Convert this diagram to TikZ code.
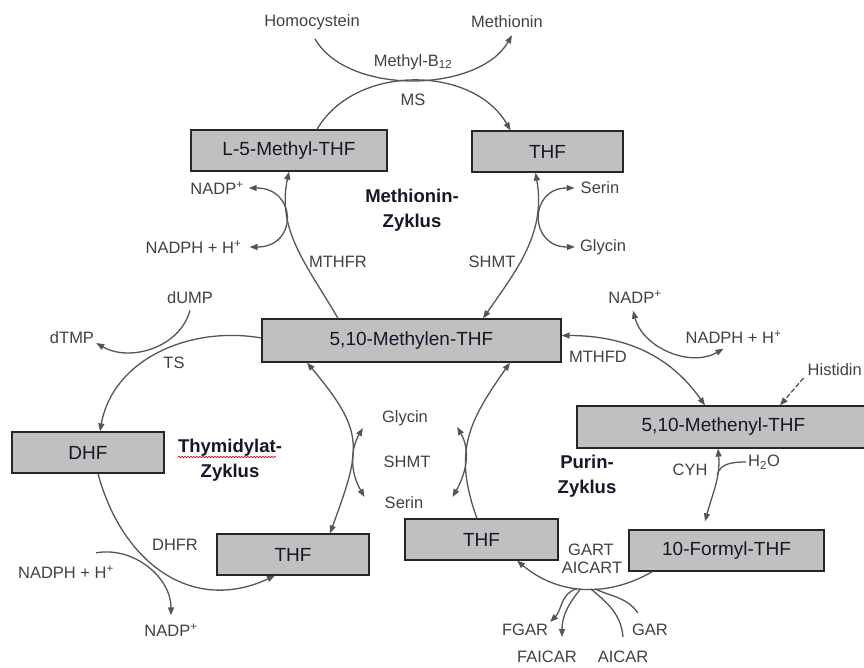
\documentclass[tikz,border=0pt]{standalone}
\usepackage{fontspec}
\setmainfont{Liberation Sans}
\usepackage{tikz}
\usetikzlibrary{arrows.meta}
\usetikzlibrary{decorations.pathmorphing}

\definecolor{boxgray}{RGB}{192,192,192}
\definecolor{linegray}{RGB}{85,85,85}
\definecolor{lblgray}{RGB}{64,64,72}
\definecolor{boxtext}{RGB}{22,22,40}

\tikzset{
  enzbox/.style={draw=black!85, fill=boxgray, line width=1.2pt, minimum height=41pt,
    inner sep=0pt, text=boxtext, font=\fontsize{19}{22}\selectfont},
  lbl/.style={text=lblgray, inner sep=2pt, font=\fontsize{16.5}{19}\selectfont},
  cyc/.style={align=center, text=boxtext, font=\bfseries\fontsize{18.5}{25}\selectfont},
  spell/.style={red!85!black, line width=0.6pt, decorate,
    decoration={snake, segment length=3pt, amplitude=0.8pt}}
}

\begin{document}
\begin{tikzpicture}[x=1pt, y=1pt, >={Triangle[length=8pt,width=6pt]},
    every edge/.append style={draw=linegray, line width=1.3pt}]
    \useasboundingbox (0,0) rectangle (864,-667);
    % boxes
    \node[enzbox, minimum width=196pt] (lmthf) at (289,-150.5) {L-5-Methyl-THF};
    \node[enzbox, minimum width=151pt] (thfA) at (547.5,-151.5) {THF};
    \node[enzbox, minimum width=299pt, minimum height=43pt] (mthf) at (411.5,-340.5) {5,10-Methylen-THF};
    \node[enzbox, minimum width=152pt] (dhf) at (88,-452.5) {DHF};
    \node[enzbox, minimum width=152pt] (thfB) at (293,-554.5) {THF};
    \node[enzbox, minimum width=153pt] (thfC) at (481.5,-539.5) {THF};
    \node[enzbox, minimum width=195pt] (formyl) at (726.5,-550.5) {10-Formyl-THF};
    \node[enzbox, minimum width=293pt, minimum height=42pt] (methenyl) at (723.5,-427) {5,10-Methenyl-THF};
    % labels
    \node[lbl] (hcy) at (312,-22) {Homocystein};
    \node[lbl] (met) at (507,-22) {Methionin};
    \node[lbl] (b12) at (413,-62) {Methyl-B\textsubscript{12}};
    \node[lbl] (ms) at (413,-100) {MS};
    \node[lbl] (nadpA) at (217,-188) {NADP\textsuperscript{+}};
    \node[lbl] (nadphA) at (193.5,-247) {NADPH + H\textsuperscript{+}};
    \node[lbl] (mthfr) at (338,-262) {MTHFR};
    \node[lbl] (serA) at (600,-188) {Serin};
    \node[lbl] (glyA) at (603,-247) {Glycin};
    \node[lbl] (shmtA) at (492,-262) {SHMT};
    \node[lbl] (dump) at (190,-298) {dUMP};
    \node[lbl] (dtmp) at (72,-338) {dTMP};
    \node[lbl] (ts) at (174,-363) {TS};
    \node[lbl] (nadpB) at (635,-297) {NADP\textsuperscript{+}};
    \node[lbl] (nadphB) at (733.5,-337) {NADPH + H\textsuperscript{+}};
    \node[lbl] (mthfd) at (598,-357) {MTHFD};
    \node[lbl, anchor=east] (his) at (864,-370) {Histidin};
    \node[lbl] (glyB) at (405,-418) {Glycin};
    \node[lbl] (shmtB) at (407,-462) {SHMT};
    \node[lbl] (serB) at (404,-503) {Serin};
    \node[lbl] (cyh) at (690,-470) {CYH};
    \node[lbl] (h2o) at (764,-462) {H\textsubscript{2}O};
    \node[lbl] (dhfr) at (175,-545) {DHFR};
    \node[lbl] (nadphC) at (66,-572) {NADPH + H\textsuperscript{+}};
    \node[lbl] (nadpC) at (171,-630) {NADP\textsuperscript{+}};
    \node[lbl] (gart) at (591,-550) {GART};
    \node[lbl] (aicart) at (592,-568) {AICART};
    \node[lbl] (fgar) at (525,-630) {FGAR};
    \node[lbl] (faicar) at (547,-657) {FAICAR};
    \node[lbl] (aicar) at (623,-657) {AICAR};
    \node[lbl] (gar) at (650,-630) {GAR};
    % cycles
    \node[cyc] (metz) at (412,-210) {Methionin-\\Zyklus};
    \node[cyc] (thyz) at (230,-460) {Thymidylat-\\Zyklus};
    \node[cyc] (purz) at (587,-476) {Purin-\\Zyklus};
    \draw[spell] (178,-457) -- (276,-457);
    % Methionin-Zyklus
    \path [->] ([xshift=28]lmthf.north) edge[out=60,in=120] ([xshift=-37]thfA.north);
    \path [->] ([shift={(3,-7)}]hcy.south) edge[out=-60,in=-120,looseness=0.86] ([shift={(5,-5)}]met.south);
    \path [->] ([xshift=-73.5]mthf.north) edge[out=120,in=-102] (lmthf.south);
    \path [<->] ([xshift=3]nadpA.east) edge[out=0,in=0,looseness=2.1] ([xshift=6]nadphA.east);
    \path [<->] ([xshift=71.5]mthf.north) edge[out=55,in=-80] ([xshift=-12]thfA.south);
    \path [<->] ([xshift=-4]serA.west) edge[out=180,in=180,looseness=2] ([xshift=-3]glyA.west);
    % Thymidylat-Zyklus
    \path [->] ([yshift=2.5]mthf.west) edge[out=170,in=80] ([xshift=12]dhf.north);
    \path [->] ([yshift=-4]dump.south) edge[out=-105,in=-30] ([yshift=-5]dtmp.east);
    \path [<->] ([xshift=-104.5]mthf.south) edge[out=-50,in=70,looseness=1.35] ([xshift=37]thfB.north);
    \path [<->] ([shift={(-17,-10)}]glyB.west) edge[out=-120,in=120] ([shift={(-18,6)}]serB.west);
    \path [->] ([xshift=10]dhf.south) edge[out=-75,in=-155,looseness=1.15] ([xshift=-18]thfB.south);
    \path [->] ([shift={(-20,10.5)}]nadphC.north east) edge[out=10,in=90] ([yshift=6]nadpC.north);
    % Purin-Zyklus
    \path [->] ([xshift=-4.5]thfC.north) edge[out=110,in=-125,looseness=1.15] ([xshift=98.5]mthf.south);
    \path [<->] ([shift={(27,-9)}]glyB.east) edge[out=-60,in=60] ([shift={(27,6)}]serB.east);
    \path [<->] ([yshift=5]mthf.east) edge[out=0,in=125] ([xshift=-18.5]methenyl.north);
    \path [<->] ([shift={(-2,-5)}]nadpB.south) edge[out=-75,in=-150] ([shift={(-10,-3)}]nadphB.south);
    \path [->, dashed] ([shift={(-2,-8)}]his.west) edge[dash pattern=on 5pt off 2pt] ([xshift=56.5]methenyl.north);
    \draw [<->, draw=linegray, line width=1.3pt] ([xshift=-5.5]methenyl.south) to[out=-85,in=75]
      node[coordinate, pos=0.35] (cyhJ) {} ([shift={(-21.5,8)}]formyl.north);
    \path (h2o.west) edge[out=180,in=80] (cyhJ);
    \draw [->, draw=linegray, line width=1.3pt] ([xshift=24]formyl.south west) to[out=-150,in=-40]
      node[coordinate, pos=0.5] (gartM) {} ([xshift=35.5]thfC.south);
    \path [->] ([xshift=-6]gartM) edge[out=195,in=45] (fgar.north east);
    \path [->] ([xshift=-2]gartM) edge[out=-130,in=90] ([shift={(15,12)}]faicar.north);
    \path ([yshift=12]aicar.north) edge[out=95,in=-40] ([xshift=8]gartM);
    \path ([shift={(8,9)}]gar.north west) edge[out=125,in=-25] ([xshift=12]gartM);
\end{tikzpicture}
\end{document}
